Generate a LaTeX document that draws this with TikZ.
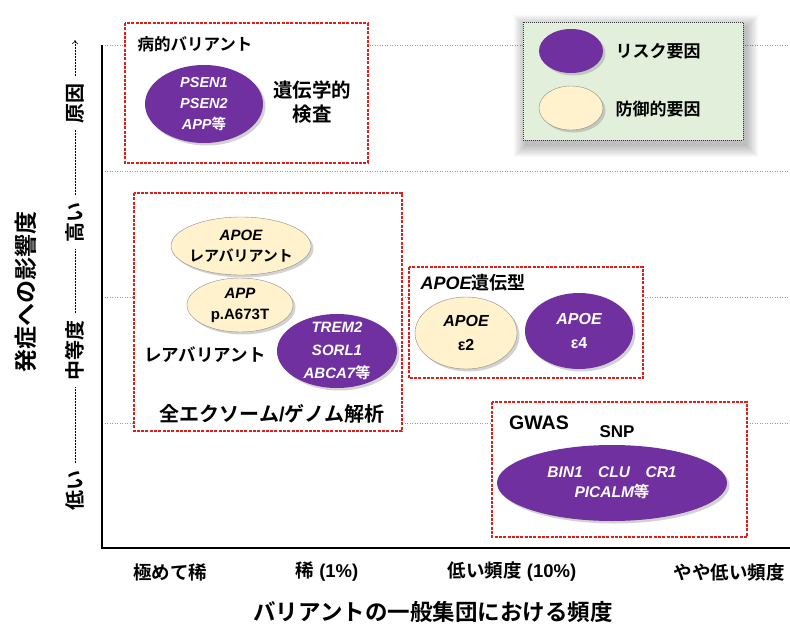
\documentclass[tikz,border=0pt]{standalone}
\usepackage{fontspec}
\setmainfont{Liberation Sans}
\newfontfamily\jp{Noto Sans CJK JP}[BoldFont={Noto Sans CJK JP Bold}]
\usetikzlibrary{shapes.geometric,shadows,arrows.meta}
\definecolor{riskc}{HTML}{7030A0}
\definecolor{protc}{HTML}{FFF2CC}
\definecolor{boxred}{HTML}{DC2020}
\definecolor{legfill}{HTML}{E2EFDA}
\newcommand\fsz[2]{\fontsize{#1}{#2}\selectfont\bfseries}
\begin{document}
\begin{tikzpicture}[x=1pt,y=-1pt,
  gridl/.style={gray!80, line width=0.6pt, dash pattern=on 1pt off 1.5pt},
  redbox/.style={draw=boxred, fill=white, line width=1.3pt, dash pattern=on 3pt off 1.3pt},
  legbox/.style={draw=black!80, fill=legfill, line width=0.6pt, dash pattern=on 1pt off 1pt},
  risk/.style={ellipse, fill=riskc, inner sep=0pt,
    drop shadow={shadow xshift=2.5pt, shadow yshift=-2.5pt, opacity=0.35}},
  prot/.style={ellipse, fill=protc, draw=black!45, line width=0.4pt, inner sep=0pt,
    drop shadow={shadow xshift=2.5pt, shadow yshift=-2.5pt, opacity=0.35}},
  rtext/.style={text=white, align=center, inner sep=0pt},
  ptext/.style={text=black, align=center, inner sep=0pt},
  ylab/.style={rotate=90, font=\fsz{20}{22}\jp},
  axdash/.style={line width=0.6pt, dash pattern=on 2pt off 1pt, shorten <=3pt, shorten >=3pt},
  xlab/.style={font=\fsz{18.5}{22}},
  jlab/.style={font=\fsz{#1}{#1}\jp},
]
\useasboundingbox (0,0) rectangle (790,626);

% grid lines
\foreach \yy in {45,171,297,423} \draw[gridl] (102,\yy) -- (790,\yy);

% axes
\coordinate (otop) at (102,45);
\coordinate (orig) at (102,548);
\coordinate (oright) at (790,548);
\draw[line width=2.5pt] (otop) -- (orig) -- (oright);

% y-axis labels
\node[ylab] (ylow) at (75,490) {低い};
\node[ylab] (ymid) at (75,350) {中等度};
\node[ylab] (yhigh) at (75,222) {高い};
\node[ylab] (ycause) at (75,103) {原因};
\coordinate (ytop) at (75,40);
\draw[axdash] (ylow) -- (ymid);
\draw[axdash] (ymid) -- (yhigh);
\draw[axdash] (yhigh) -- (ycause);
\draw[axdash, shorten >=0pt, -{To[length=4pt,width=6pt]}] (ycause) -- (ytop);
\node[rotate=90, font=\fsz{23}{26}\jp] (ytitle) at (26,292) {発症への影響度};

% x-axis labels
\node[xlab] (x1) at (170,572) {{\jp 極めて稀}};
\node[xlab] (x2) at (327,572) {{\jp 稀} (1\%)};
\node[xlab] (x3) at (512,572) {{\jp 低い頻度} (10\%)};
\node[xlab] (x4) at (729,572) {{\jp やや低い頻度}};
\node[font=\fsz{22.5}{24}\jp] (xtitle) at (433,612) {バリアントの一般集団における頻度};

% boxes
\draw[redbox] (125,23) rectangle (368,163);
\draw[redbox] (134,193) rectangle (402,431);
\draw[redbox] (409,267) rectangle (643,378);
\draw[redbox] (492,402) rectangle (747,537);

% legend shadow + box
\foreach \i in {1,...,12}
  \fill[black, opacity=0.022] (523-\i+3,22-\i+5) rectangle (743+\i+3,140+\i+5);
\draw[legbox] (523,22) rectangle (743,140);
\node[risk, minimum width=64, minimum height=44] (lr) at (571,51) {};
\node[jlab=17, anchor=west] (lrt) at (612,51) {リスク要因};
\node[prot, minimum width=64, minimum height=44] (lp) at (571,108) {};
\node[jlab=17, anchor=west] (lpt) at (612,109) {防御的要因};

% box 1
\node[jlab=16.5, anchor=west] (t1) at (134,44) {病的バリアント};
\node[risk, minimum width=118, minimum height=78,
  label={[rtext, font=\fsz{14.5}{21}\itshape]center:{PSEN1\\PSEN2\\APP{\jp\upshape 等}}}] (psen) at (204,104) {};
\node[font=\fsz{19.5}{24}\jp, align=center] (gen) at (312,102) {遺伝学的\\検査};

% box 2
\node[prot, minimum width=140, minimum height=58,
  label={[ptext, font=\fsz{15}{21}]center:{{\itshape APOE}\\{\jp レアバリアント}}}] (apoer) at (241,246) {};
\node[prot, minimum width=106, minimum height=54,
  label={[ptext, font=\fsz{15}{21}]center:{{\itshape APP}\\p.A673T}}] (app) at (240,305) {};
\node[risk, minimum width=120, minimum height=74,
  label={[rtext, font=\fsz{15}{23}\itshape]center:{TREM2\\SORL1\\ABCA7{\jp\upshape 等}}}] (trem) at (337,351) {};
\node[jlab=17.5] (rare) at (205,355) {レアバリアント};
\node[font=\fsz{20}{22}] (wes) at (272,414) {{\jp 全エクソーム}/{\jp ゲノム解析}};

% box 3
\node[font=\fsz{18}{22}, anchor=west] (t3) at (417,283) {{\itshape APOE}{\jp 遺伝型}};
\node[prot, minimum width=102, minimum height=72,
  label={[ptext, font=\fsz{16}{24}]center:{{\itshape APOE}\\ε2}}] (e2) at (466,333) {};
\node[risk, minimum width=108, minimum height=76,
  label={[rtext, font=\fsz{16}{24}]center:{{\itshape APOE}\\ε4}}] (e4) at (579,331) {};

% box 4
\node[font=\fsz{19.5}{22}] (gwas) at (539,423) {GWAS};
\node[font=\fsz{17}{20}] (snp) at (617,432) {SNP};
\node[risk, minimum width=230, minimum height=76,
  label={[rtext, font=\fsz{15.5}{20}\itshape]center:{BIN1\quad CLU\quad CR1\\PICALM{\jp\upshape 等}}}] (bin) at (612,483) {};
\end{tikzpicture}
\end{document}
